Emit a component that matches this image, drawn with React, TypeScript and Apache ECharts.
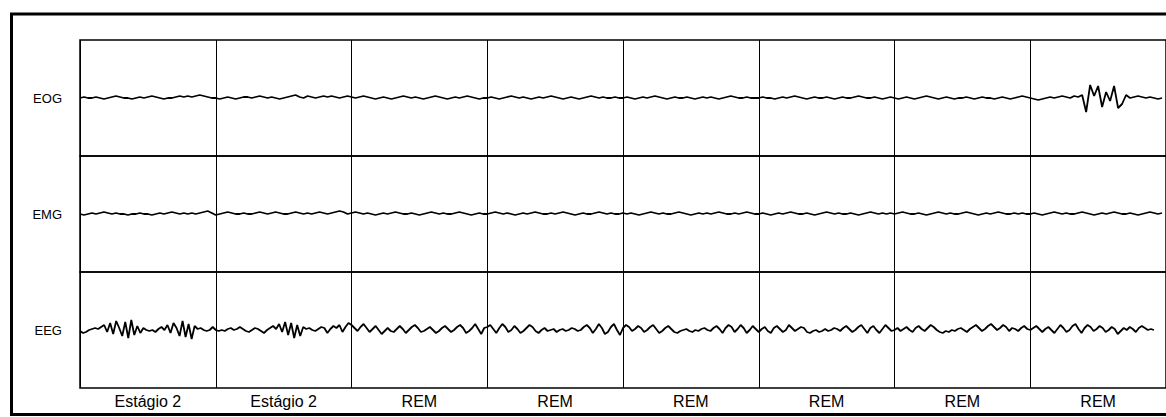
import React, { useEffect, useRef } from "react";
import * as echarts from "echarts";

const stageLabels = ["Estágio 2", "Estágio 2", "REM", "REM", "REM", "REM", "REM", "REM"];
const channelNames = ["EOG", "EMG", "EEG"];

// samples per epoch
const eogPerEpoch = 34;
const emgPerEpoch = 34;
const eegPerEpoch = 45;

const eogValues = [
  0,1,0,0,1,0,-1,0,1,2,1,0,0,-1,0,1,0,1,2,1,0,-1,0,0,1,2,1,2,1,2,3,2,1,0,
  0,-1,0,1,0,-1,0,1,1,0,1,2,1,0,1,0,-1,0,1,2,3,1,0,2,1,0,1,2,1,2,1,0,1,2,
  1,0,1,2,1,0,-1,0,1,0,-1,0,1,2,1,0,1,0,-1,0,1,2,1,0,-1,0,1,0,1,2,1,0,-1,0,
  0,1,0,-1,0,1,2,1,0,1,0,-1,0,1,0,1,2,1,0,-1,0,1,0,-1,0,1,2,1,0,1,0,0,1,0,
  0,1,0,-1,0,1,0,1,2,1,0,-1,0,1,0,0,1,0,-1,0,1,0,1,0,-1,0,1,2,1,0,0,1,0,0,
  0,1,0,0,-1,0,1,0,1,2,1,0,-1,0,1,0,0,1,0,-1,0,1,0,0,1,2,1,0,0,1,0,-1,0,1,
  0,-1,0,1,0,-1,0,1,2,1,0,-1,0,1,0,-1,0,0,1,0,-1,0,1,0,0,-1,0,1,0,-1,0,1,2,1,
  0,-1,-2,-1,0,1,0,1,2,1,0,2,1,3,-14,13,2,12,-9,6,-3,12,-10,-6,3,0,1,2,1,0,1,0,-1,0,
];

const emgValues = [
  0,-1,0,1,0,1,2,1,0,1,0,0,-1,0,0,1,0,0,-1,0,1,0,1,2,1,0,1,0,1,0,1,2,3,1,
  -1,0,1,2,1,0,0,1,0,0,1,2,1,0,1,2,1,0,0,1,2,1,0,1,0,1,2,1,0,1,2,3,2,0,
  1,2,1,0,1,0,-1,0,1,0,1,2,1,0,0,1,0,-1,0,1,2,1,0,1,0,0,1,2,1,0,-1,0,1,0,
  0,1,2,1,0,1,0,-1,0,1,0,1,2,1,0,0,1,0,1,2,1,0,-1,0,1,0,0,1,2,1,0,1,0,0,
  1,0,1,0,-1,0,1,2,1,0,1,0,0,1,2,1,0,-1,0,1,0,1,0,1,2,1,0,0,1,0,1,2,1,0,
  0,1,0,-1,0,1,0,1,2,1,0,0,1,0,-1,0,1,2,1,0,1,0,0,1,0,-1,0,1,2,1,0,1,0,1,
  0,1,2,1,0,0,1,0,-1,0,1,2,1,0,1,0,0,1,2,1,0,-1,0,1,0,1,2,1,0,0,1,0,1,0,
  0,1,0,-1,0,1,2,1,0,1,0,0,1,2,1,0,-1,0,1,0,1,2,1,0,0,1,0,-1,0,1,2,1,0,1,
];

const eegValues = [
  -1,-3,-2,0,1,2,1,3,5,-2,7,-4,9,2,-6,8,-8,10,-5,4,-3,2,0,-1,0,-2,1,3,0,5,-3,7,2,-6,9,-7,6,-9,4,1,2,0,-1,0,3,
  0,-1,0,-1,1,2,0,1,3,1,-1,-2,0,2,1,-1,-3,0,2,4,1,6,-2,8,-5,7,-8,5,-6,3,1,2,0,-1,1,3,2,-3,1,4,2,5,-2,3,7,
  5,2,-1,3,6,2,-2,1,4,0,-4,-1,2,-1,-2,1,4,1,-3,0,3,5,2,-2,-1,1,3,0,-3,-1,2,4,1,-2,0,3,5,2,-3,-1,2,6,1,-4,2,
  3,5,1,-3,2,6,3,-2,0,4,1,-3,-1,2,5,3,-1,-3,0,2,-1,0,1,-2,0,1,-1,0,2,1,-1,0,3,5,2,-3,1,6,2,-4,-2,3,6,0,-5,
  2,5,3,-1,1,4,2,-2,0,3,5,1,-3,-1,2,4,1,-2,-3,-1,0,1,-1,-2,0,-1,1,2,0,-1,2,4,1,-3,2,5,3,-2,1,5,2,-3,0,4,1,
  -2,1,3,-1,-3,2,4,1,-2,0,5,2,-1,1,3,2,-2,-3,-1,0,-2,-1,1,-1,0,2,1,-1,2,4,1,-2,0,3,5,1,-3,2,4,0,-3,1,5,2,-1,
  0,2,-1,1,3,0,-2,2,4,1,-1,2,5,3,0,-2,-3,-1,-2,0,-1,1,2,0,-2,1,3,5,2,-1,1,4,6,3,0,2,5,3,-1,2,1,-1,2,4,1,
  0,2,4,1,-2,1,3,0,-3,1,5,2,-2,0,4,6,1,-3,2,5,3,-1,1,4,2,-2,0,3,1,-4,-1,2,0,3,1,-2,2,4,2,0,1,0,
];

const channelData = [
  { values: eogValues, perEpoch: eogPerEpoch },
  { values: emgValues, perEpoch: emgPerEpoch },
  { values: eegValues, perEpoch: eegPerEpoch },
];

export default function App() {
  const ref = useRef<HTMLDivElement>(null);
  useEffect(() => {
    if (!ref.current) return;
    const chart = echarts.init(ref.current, null, { renderer: "svg" });
    const rowTops = [40, 156, 272];
    const rowH = 116;
    const font = "'Liberation Sans', Arial, sans-serif";
    const grids = rowTops.map((t) => ({
      left: 80,
      top: t,
      width: 1086,
      height: rowH,
      show: true,
      borderColor: "#000",
      borderWidth: 1.5,
      backgroundColor: "transparent",
    }));
    const catAxes = rowTops.map((_, i) => ({
      type: "category",
      gridIndex: i,
      data: stageLabels,
      boundaryGap: true,
      axisLine: { show: false },
      axisTick: { show: false },
      axisLabel: {
        show: i === 2,
        color: "#000",
        fontFamily: font,
        fontSize: 16,
        margin: 5,
        interval: 0,
      },
      splitLine: { show: true, lineStyle: { color: "#000", width: 1 } },
    }));
    const valAxes = rowTops.map((_, i) => ({
      type: "value",
      gridIndex: i,
      min: 0,
      max: 8,
      show: false,
    }));
    const yAxes = rowTops.map((_, i) => ({
      type: "value",
      gridIndex: i,
      min: -58,
      max: 58,
      interval: 58,
      axisLine: { show: false },
      axisTick: { show: false },
      splitLine: { show: false },
      axisLabel: {
        color: "#000",
        fontFamily: font,
        fontSize: 13,
        margin: 18,
        formatter: (v: number) => (v === 0 ? channelNames[i] : ""),
      },
    }));
    const series = channelData.map((c, i) => ({
      type: "line",
      xAxisIndex: 3 + i,
      yAxisIndex: i,
      showSymbol: false,
      silent: true,
      lineStyle: { color: "#000", width: 1.8 },
      data: c.values.map((v, k) => [k / c.perEpoch, v]),
    }));
    chart.setOption({
      animation: false,
      backgroundColor: "#fff",
      grid: grids,
      xAxis: [...catAxes, ...valAxes],
      yAxis: yAxes,
      series,
      graphic: [
        {
          type: "rect",
          shape: { x: 11.5, y: 14, width: 1170, height: 400.5 },
          style: { fill: "none", stroke: "#000", lineWidth: 3 },
          silent: true,
        },
      ],
    });
    return () => chart.dispose();
  }, []);
  return (
    <div
      ref={ref}
      style={{ position: "absolute", left: 0, top: 0, width: 1166, height: 417 }}
    />
  );
}
